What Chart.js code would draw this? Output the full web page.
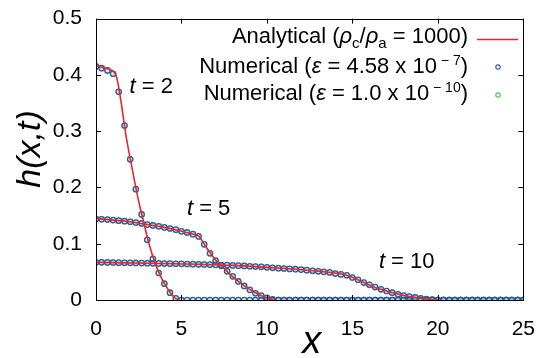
<!DOCTYPE html>
<html>
<head>
<meta charset="utf-8">
<script src="https://cdn.jsdelivr.net/npm/chart.js@4/dist/chart.umd.min.js"></script>
<style>
html,body{margin:0;padding:0;background:#fff;}
#wrap{width:544px;height:358px;}
</style>
</head>
<body>
<div id="wrap"><canvas id="c" width="544" height="358"></canvas></div>
<script>
// ---- data ----
const xGrid = [0,0.33,0.67,1,1.33,1.67,2,2.33,2.67,3,3.33,3.67,4,4.33,4.67,5,5.33,5.67,6,6.33,6.67,7,7.33,7.67,8,8.33,8.67,9,9.33,9.67,10,10.33,10.67,11,11.33,11.67,12,12.33,12.67,13,13.33,13.67,14,14.33,14.67,15,15.33,15.67,16,16.33,16.67,17,17.33,17.67,18,18.33,18.67,19,19.33,19.67,20,20.33,20.67,21,21.33,21.67,22,22.33,22.67,23,23.33,23.67,24,24.33,24.67,25];

const numT2 = [0.415,0.412,0.408,0.402,0.370,0.310,0.250,0.197,0.152,0.107,0.073,0.048,0.029,0.013,0.003,
  0,0,0,0,0,0,0,0,0,0,0,0,0,0,0,0,0,0,0,0,0,0,0,0,0,0,0,0,0,0,0,0,0,0,0,0,0,0,0,0,0,0,0,0,0,0,0,0,0,0,0,0,0,0,0,0,0,0,0,0,0];

const numT5 = [0.144,0.1435,0.143,0.142,0.141,0.140,0.139,0.1375,0.136,0.134,0.1325,0.131,0.129,0.127,0.125,0.122,0.120,0.117,0.113,0.099,0.083,0.070,0.061,0.051,0.042,0.033,0.025,0.018,0.012,0.008,0.004,0.001,
  0,0,0,0,0,0,0,0,0,0,0,0,0,0,0,0,0,0,0,0,0,0,0,0,0,0,0,0,0,0,0,0,0,0,0,0,0,0,0,0,0,0,0,0];

const numT10 = [0.067,0.067,0.0668,0.0666,0.0664,0.0662,0.066,0.0658,0.0656,0.0654,0.0652,0.065,0.0648,0.0646,0.0644,0.0642,0.064,0.0637,0.0634,0.0631,0.0628,0.0625,0.0622,0.062,0.0615,0.061,0.0605,0.06,0.0595,0.059,0.058,0.0572,0.0565,0.056,0.0553,0.0547,0.054,0.053,0.052,0.051,0.050,0.049,0.047,0.0455,0.044,0.040,0.036,0.031,0.027,0.023,0.019,0.016,0.013,0.010,0.0078,0.0062,0.0045,0.003,0.0018,0.0008,
  0,0,0,0,0,0,0,0,0,0,0,0,0,0,0,0];

const anaT2x = [0,0.5,1.15,1.45,1.75,2.1,2.45,2.8,3.1,3.5,3.9,4.3,4.6,4.85];
const anaT2y = [0.417,0.412,0.401,0.355,0.293,0.236,0.182,0.137,0.100,0.062,0.035,0.015,0.004,0];
const anaT5x = [0,1,2,3,4,5,5.7,6.0,6.4,6.7,7.0,7.4,7.8,8.2,8.6,9.0,9.4,9.8,10.2,10.5];
const anaT5y = [0.145,0.142,0.139,0.134,0.129,0.122,0.117,0.114,0.096,0.083,0.071,0.059,0.047,0.036,0.027,0.019,0.012,0.006,0.002,0];
const anaT10x = [0,3,6,8,10,11.7,12.7,13.7,14.6,15.1,15.6,16.1,16.6,17.1,17.6,18.1,18.6,19.1,19.6,20];
const anaT10y = [0.067,0.0654,0.0634,0.0615,0.058,0.0547,0.052,0.049,0.0445,0.039,0.032,0.025,0.0195,0.015,0.011,0.0075,0.0048,0.0025,0.0008,0];

const xTicks = [0,5,10,15,20,25];
const yTicks = [0,0.1,0.2,0.3,0.4,0.5];

const timeLabels = [
  {t:'2', x:1.96, y:0.3685},
  {t:'5', x:5.32, y:0.1505},
  {t:'10', x:16.55, y:0.0571}
];

// ---- helpers ----
const pts = (xs, ys) => xs.map((x,i)=>({x:x, y:ys[i]}));
const RED = '#e8262c';
const BLUE = 'rgba(36,82,156,0.9)';
const GREEN = '#5cbf4a';
const FONT = '"Liberation Sans", Arial, Helvetica, sans-serif';

function numDs(ys, color, bw, fill, order){
  return {data: pts(xGrid, ys), showLine:false, pointRadius:2.7, pointHoverRadius:2.7,
    pointBorderWidth:bw, pointBorderColor:color, pointBackgroundColor:fill, borderColor:color, order:order};
}
function anaDs(xs, ys){
  return {data: pts(xs, ys), showLine:true, pointRadius:0, borderColor:RED, borderWidth:1.6,
    cubicInterpolationMode:'monotone', fill:false, order:0};
}

const datasets = [
  anaDs(anaT2x, anaT2y), anaDs(anaT5x, anaT5y), anaDs(anaT10x, anaT10y),
  numDs(numT2, BLUE, 1.3, 'rgba(120,185,205,0.35)', 1), numDs(numT5, BLUE, 1.3, 'rgba(120,185,205,0.35)', 1), numDs(numT10, BLUE, 1.3, 'rgba(120,185,205,0.35)', 1),
  numDs(numT2, GREEN, 0.8, 'rgba(0,0,0,0)', 2), numDs(numT5, GREEN, 0.8, 'rgba(0,0,0,0)', 2), numDs(numT10, GREEN, 0.8, 'rgba(0,0,0,0)', 2)
];

function drawRich(ctx, segs, rightX, baseY, size){
  const parts = segs.map(s=>{
    let f, dy=0;
    if(s.f==='i'){ f='italic '+size+'px '+FONT; }
    else if(s.f==='sub'){ f=Math.round(size*0.68)+'px '+FONT; dy=size*0.22; }
    else if(s.f==='sup'){ f=Math.round(size*0.62)+'px '+FONT; dy=-size*0.38; }
    else { f=size+'px '+FONT; }
    ctx.font=f;
    return {t:s.t, f:f, dy:dy, w:ctx.measureText(s.t).width};
  });
  const total = parts.reduce((a,p)=>a+p.w,0);
  let x = rightX-total;
  ctx.textAlign='left'; ctx.textBaseline='alphabetic'; ctx.fillStyle='#000';
  parts.forEach(p=>{ ctx.font=p.f; ctx.fillText(p.t, x, baseY+p.dy); x+=p.w; });
}
function drawRichLeft(ctx, segs, leftX, baseY, size){
  let x=leftX; ctx.fillStyle='#000'; ctx.textAlign='left'; ctx.textBaseline='alphabetic';
  segs.forEach(s=>{ ctx.font=(s.f==='i'?'italic ':'')+size+'px '+FONT; ctx.fillText(s.t,x,baseY); x+=ctx.measureText(s.t).width; });
}

const decor = {
  id:'decor',
  afterDatasetsDraw(chart){
    const ctx=chart.ctx, a=chart.chartArea, xs=chart.scales.x, ys=chart.scales.y;
    ctx.save();
    // frame
    ctx.strokeStyle='#000'; ctx.lineWidth=1;
    ctx.strokeRect(Math.round(a.left)+0.5, Math.round(a.top)+0.5, Math.round(a.right-a.left), Math.round(a.bottom-a.top));
    // inward ticks
    const L=5;
    ctx.beginPath();
    xTicks.forEach(v=>{ const px=Math.round(xs.getPixelForValue(v))+0.5;
      ctx.moveTo(px,a.bottom); ctx.lineTo(px,a.bottom-L); ctx.moveTo(px,a.top); ctx.lineTo(px,a.top+L); });
    yTicks.forEach(v=>{ const py=Math.round(ys.getPixelForValue(v))+0.5;
      ctx.moveTo(a.left,py); ctx.lineTo(a.left+L,py); ctx.moveTo(a.right,py); ctx.lineTo(a.right-L,py); });
    ctx.stroke();
    // time labels
    timeLabels.forEach(l=>{
      drawRichLeft(ctx, [{t:'t',f:'i'},{t:' = '+l.t,f:'n'}], xs.getPixelForValue(l.x), ys.getPixelForValue(l.y), 22);
    });
    // legend
    drawRich(ctx, [{t:'Analytical (',f:'n'},{t:'ρ',f:'i'},{t:'c',f:'sub'},{t:'/',f:'n'},{t:'ρ',f:'i'},{t:'a',f:'sub'},{t:' = 1000)',f:'n'}], 468, 43, 22);
    drawRich(ctx, [{t:'Numerical (',f:'n'},{t:'ε',f:'i'},{t:' = 4.58 x 10',f:'n'},{t:' − 7',f:'sup'},{t:')',f:'n'}], 468, 73, 22);
    drawRich(ctx, [{t:'Numerical (',f:'n'},{t:'ε',f:'i'},{t:' = 1.0 x 10',f:'n'},{t:' − 10',f:'sup'},{t:')',f:'n'}], 468, 100, 22);
    ctx.strokeStyle=RED; ctx.lineWidth=1.6;
    ctx.beginPath(); ctx.moveTo(477,39.5); ctx.lineTo(518,39.5); ctx.stroke();
    ctx.lineWidth=1.2; ctx.strokeStyle=BLUE;
    ctx.beginPath(); ctx.arc(498,67,2.2,0,Math.PI*2); ctx.stroke();
    ctx.strokeStyle=GREEN;
    ctx.beginPath(); ctx.arc(498,95,2.2,0,Math.PI*2); ctx.stroke();
    // axis titles
    ctx.fillStyle='#000';
    ctx.font='italic 38px '+FONT; ctx.textAlign='center'; ctx.textBaseline='alphabetic';
    ctx.fillText('x', (a.left+a.right)/2+2, 353);
    ctx.save();
    ctx.translate(40, 149); ctx.rotate(-Math.PI/2);
    ctx.font='italic 34px '+FONT; ctx.textAlign='center';
    ctx.fillText('h(x,t)', 0, 0);
    ctx.restore();
    ctx.restore();
  }
};

new Chart(document.getElementById('c'), {
  type:'line',
  data:{datasets:datasets},
  plugins:[decor],
  options:{
    responsive:false, animation:false, devicePixelRatio:1,
    layout:{padding:{left:0,right:14,top:11,bottom:0}},
    plugins:{legend:{display:false}, tooltip:{enabled:false}},
    scales:{
      x:{type:'linear', min:0, max:25,
        afterBuildTicks:s=>{ s.ticks = xTicks.map(v=>({value:v})); },
        afterFit:s=>{ s.height=58; },
        grid:{display:false}, border:{display:false},
        ticks:{padding:9, color:'#000', font:{family:FONT, size:21}, maxRotation:0, autoSkip:false, callback:v=>String(v)}},
      y:{type:'linear', min:0, max:0.5,
        afterBuildTicks:s=>{ s.ticks = yTicks.map(v=>({value:v})); },
        afterFit:s=>{ s.width=96; },
        grid:{display:false}, border:{display:false},
        ticks:{padding:6, color:'#000', font:{family:FONT, size:21}, autoSkip:false, callback:v=>(v===0?'0':v.toFixed(1))}}
    }
  }
});
</script>
</body>
</html>
